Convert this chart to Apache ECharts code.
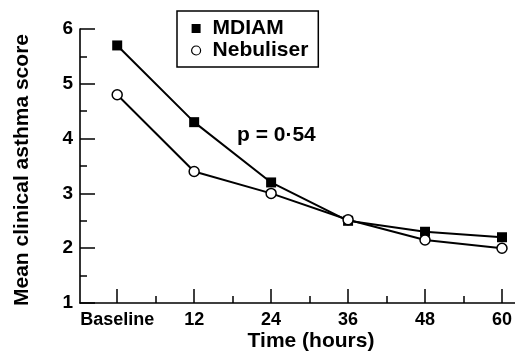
<!DOCTYPE html>
<html>
<head>
<meta charset="utf-8">
<script src="https://cdn.jsdelivr.net/npm/echarts@6/dist/echarts.min.js"></script>
<style>
  html, body {margin: 0; padding: 0; background: #fff;}
  #chart {width: 515px; height: 358px;}
</style>
</head>
<body>
<div id="chart"></div>
<script>
const hours = [0, 12, 24, 36, 48, 60];
const hourLabels = ['Baseline', '12', '24', '36', '48', '60'];
const minorHours = [6, 18, 30, 42, 54];
const mdiam = [5.7, 4.3, 3.2, 2.5, 2.3, 2.2];
const nebuliser = [4.8, 3.4, 3.0, 2.52, 2.15, 2.0];
const yMajor = [1, 2, 3, 4, 5, 6];
const yMinor = [1.5, 2.5, 3.5, 4.5, 5.5];

const font = "'Liberation Sans', Arial, sans-serif";
const black = '#000';

const pairs = (vals) => hours.map((h, i) => [h, vals[i]]);

const chart = echarts.init(document.getElementById('chart'));
chart.setOption({
  animation: false,
  backgroundColor: '#fff',
  textStyle: {fontFamily: font, color: black},
  grid: {left: 80, right: 0, top: 29, bottom: 55},
  legend: {
    orient: 'vertical',
    left: 177,
    top: 11,
    padding: [7, 10, 6, 14],
    itemGap: 1,
    itemWidth: 9,
    itemHeight: 9,
    borderColor: black,
    borderWidth: 1.5,
    textStyle: {fontFamily: font, fontSize: 21, fontWeight: 'bold', color: black, padding: [0, 0, 0, 7], lineHeight: 20},
    data: [
      {name: 'MDIAM', icon: 'rect', itemStyle: {color: black}},
      {name: 'Nebuliser', icon: 'circle', itemStyle: {color: '#fff', borderColor: black, borderWidth: 1.2}}
    ]
  },
  xAxis: [
    {
      type: 'value', min: -5.8, max: 62,
      axisLine: {onZero: false, lineStyle: {color: black, width: 1.6}},
      axisTick: {inside: true, length: 14, customValues: hours, lineStyle: {color: black, width: 1.5}},
      axisLabel: {
        customValues: hours, margin: 8,
        fontSize: 18, fontWeight: 'bold', color: black, fontFamily: font,
        formatter: (v) => hourLabels[hours.indexOf(v)] || ''
      },
      splitLine: {show: false}
    },
    {
      type: 'value', min: -5.8, max: 62, position: 'bottom',
      axisLine: {show: false, onZero: false},
      axisTick: {inside: true, length: 7, customValues: minorHours, lineStyle: {color: black, width: 1.5}},
      axisLabel: {show: false},
      splitLine: {show: false}
    }
  ],
  yAxis: [
    {
      type: 'value', min: 1, max: 6, interval: 1,
      axisLine: {show: true, onZero: false, lineStyle: {color: black, width: 1.6}},
      axisTick: {show: true, inside: true, length: 15, customValues: yMajor, lineStyle: {color: black, width: 1.5}},
      axisLabel: {customValues: yMajor, margin: 7, fontSize: 19, fontWeight: 'bold', color: black, fontFamily: font},
      splitLine: {show: false}
    },
    {
      type: 'value', min: 1, max: 6, position: 'left',
      axisLine: {show: false, onZero: false},
      axisTick: {show: true, inside: true, length: 7, customValues: yMinor, lineStyle: {color: black, width: 1.5}},
      axisLabel: {show: false},
      splitLine: {show: false}
    }
  ],
  graphic: [
    {
      type: 'text', x: 311, y: 341,
      style: {text: 'Time (hours)', font: "bold 21px " + font, fill: black, textAlign: 'center', textVerticalAlign: 'middle'}
    },
    {
      type: 'text', x: 22, y: 170, rotation: Math.PI / 2,
      style: {text: 'Mean clinical asthma score', font: "bold 21px " + font, fill: black, textAlign: 'center', textVerticalAlign: 'middle'}
    },
    {
      type: 'text', x: 237, y: 135,
      style: {text: 'p = 0·54', font: "bold 21px " + font, fill: black, textAlign: 'left', textVerticalAlign: 'middle'}
    }
  ],
  series: [
    {
      name: 'MDIAM', type: 'line', data: pairs(mdiam),
      symbol: 'rect', symbolSize: 10, showSymbol: true,
      lineStyle: {color: black, width: 2},
      itemStyle: {color: black, borderColor: black, borderWidth: 0},
      z: 3
    },
    {
      name: 'Nebuliser', type: 'line', data: pairs(nebuliser),
      symbol: 'circle', symbolSize: 10, showSymbol: true,
      lineStyle: {color: black, width: 2},
      itemStyle: {color: '#fff', borderColor: black, borderWidth: 1.5},
      z: 4
    }
  ]
});
</script>
</body>
</html>
